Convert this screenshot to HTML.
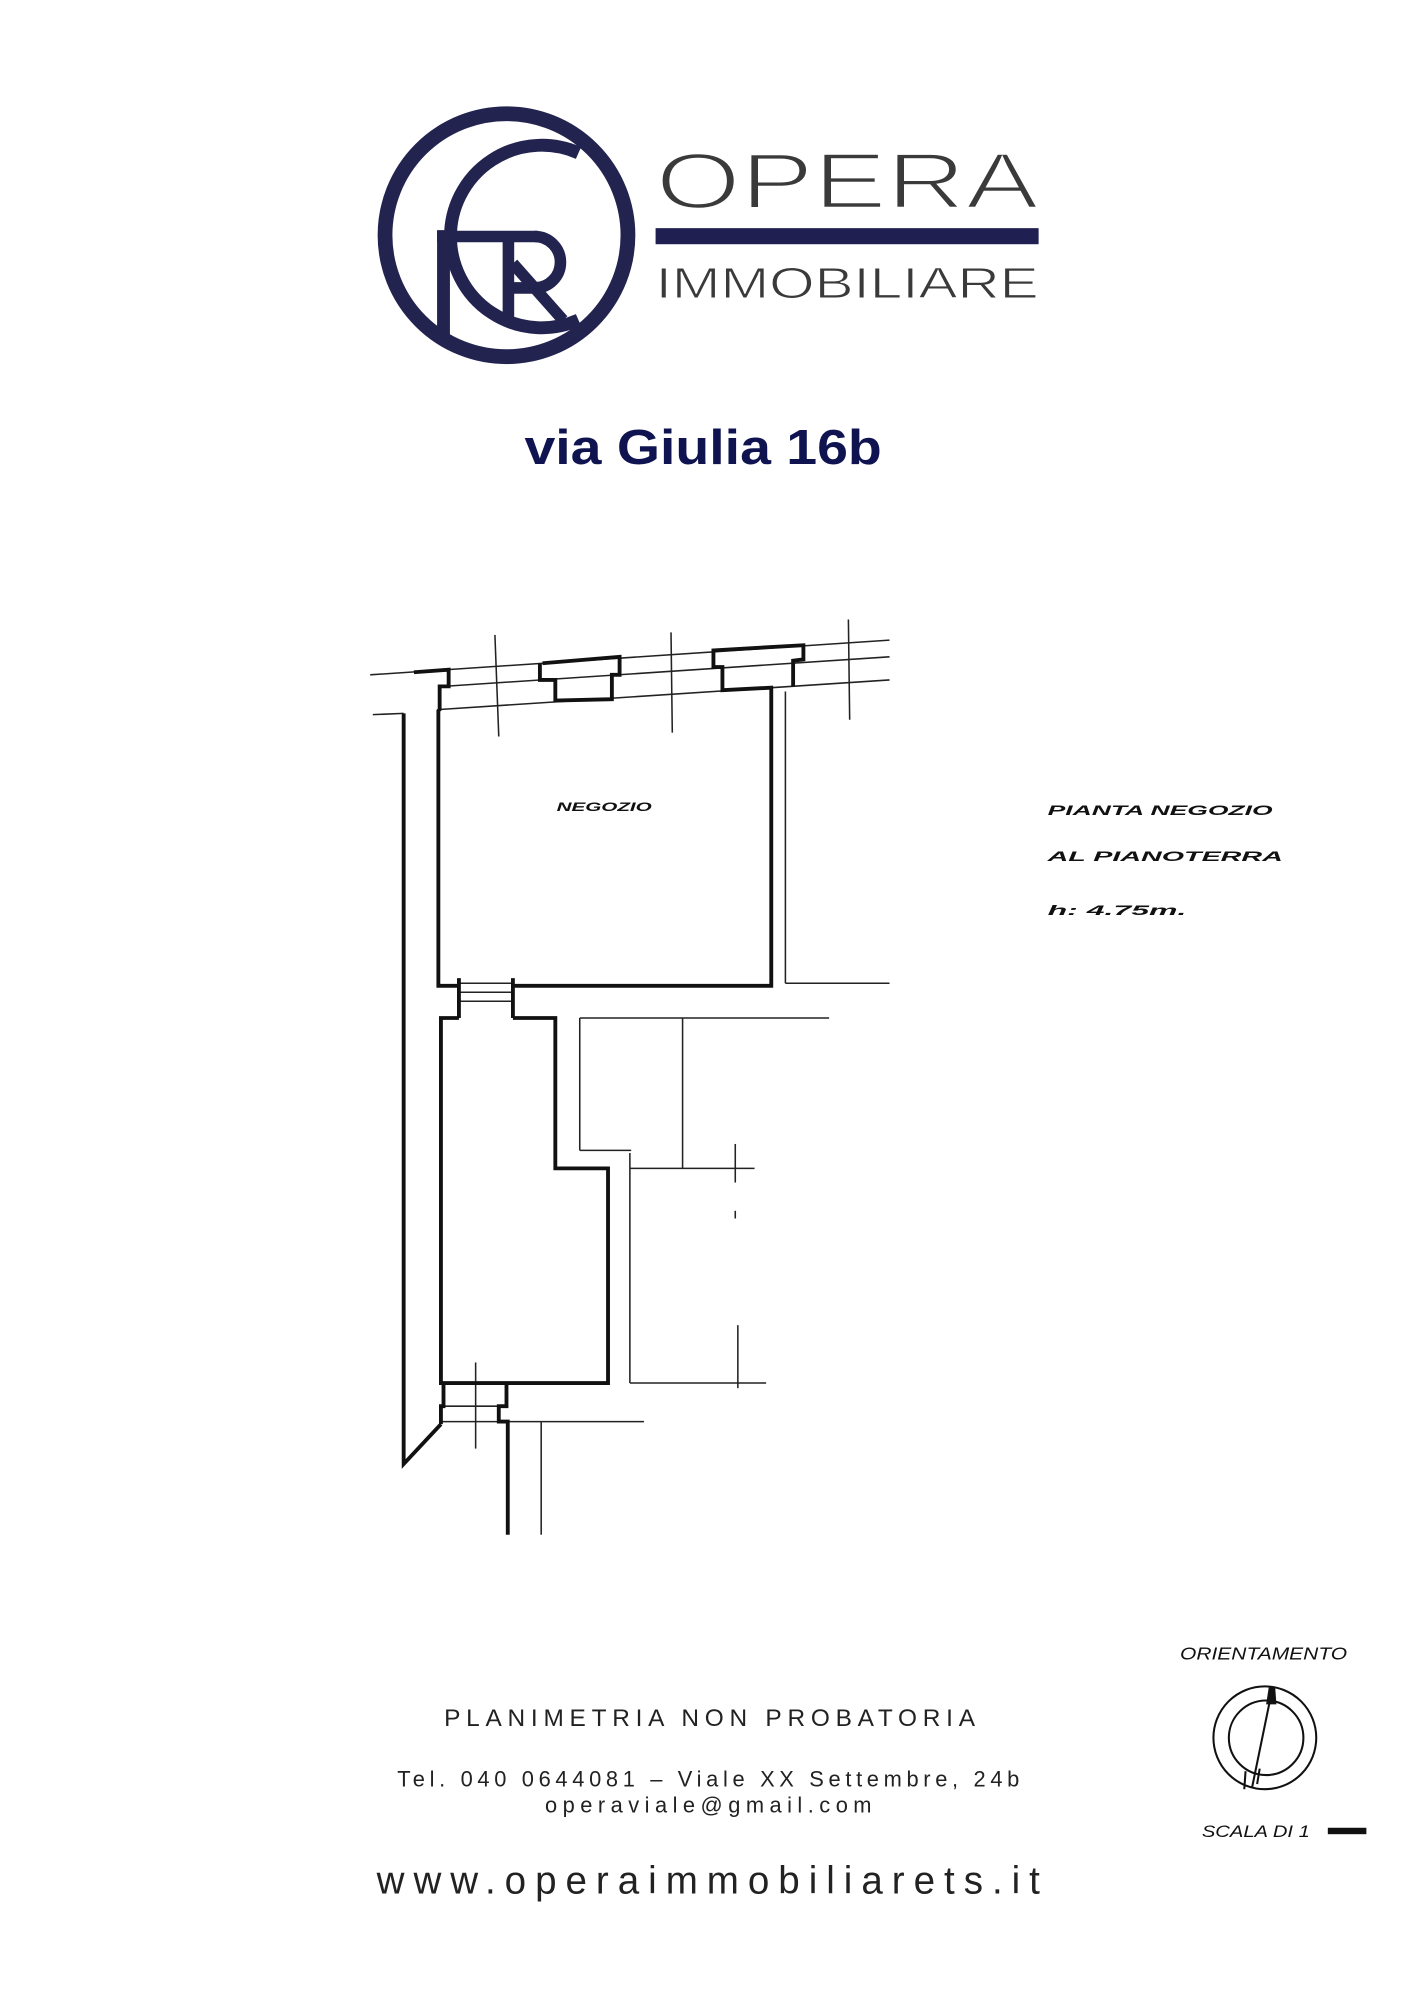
<!DOCTYPE html>
<html><head><meta charset="utf-8"><style>
html,body{margin:0;padding:0;background:#fff;}
svg{display:block;}
</style></head><body>
<svg width="1414" height="2000" viewBox="0 0 1100 1556" xmlns="http://www.w3.org/2000/svg">
<rect width="1100" height="1556" fill="#fff"/>
<!-- LOGO -->
<g fill="none" stroke="#23234f">
<circle cx="394" cy="183" r="94.5" stroke-width="11.5"/>
<path d="M450,119 A71,71 0 1 0 450,249" stroke-width="10"/>
<line x1="345" y1="179" x2="345" y2="261" stroke-width="10"/>
<line x1="340" y1="184" x2="418" y2="184" stroke-width="9"/>
<path d="M416,184 A20,20 0 0 1 416,224 L396,224" stroke-width="9"/>
<line x1="395.5" y1="184" x2="395.5" y2="248" stroke-width="9"/>
<line x1="399" y1="205" x2="438" y2="249" stroke-width="9"/>
</g>
<text x="510" y="162" font-family="Liberation Sans, sans-serif" font-size="61" fill="#3a3a3a" textLength="298" lengthAdjust="spacingAndGlyphs" stroke="#fff" stroke-width="2">OPERA</text>
<rect x="510" y="177.5" width="298" height="12.5" fill="#1f1f52"/>
<text x="510" y="232" font-family="Liberation Sans, sans-serif" font-size="34" fill="#3a3a3a" textLength="298" lengthAdjust="spacingAndGlyphs" stroke="#fff" stroke-width="0.8">IMMOBILIARE</text>
<text x="547" y="361" text-anchor="middle" font-family="Liberation Sans, sans-serif" font-weight="bold" font-size="38" fill="#0f1450" textLength="278" lengthAdjust="spacingAndGlyphs">via Giulia 16b</text>

<!-- PLAN thin lines -->
<g stroke="#222" fill="none" stroke-width="1.2">
<line x1="288" y1="525" x2="692" y2="498"/>
<line x1="345" y1="534" x2="692" y2="511"/>
<line x1="342" y1="552" x2="692" y2="529"/>
<line x1="385" y1="494" x2="388" y2="573"/>
<line x1="522" y1="492" x2="523" y2="570"/>
<line x1="660" y1="482" x2="661" y2="560"/>
<line x1="611" y1="538" x2="611" y2="765"/>
<line x1="611" y1="765" x2="692" y2="765"/>
<line x1="451" y1="792" x2="451" y2="895"/>
<line x1="451" y1="792" x2="645" y2="792"/>
<line x1="451" y1="895" x2="491" y2="895"/>
<line x1="490" y1="897" x2="490" y2="1076"/>
<line x1="490" y1="1076" x2="596" y2="1076"/>
<line x1="531" y1="792" x2="531" y2="909"/>
<line x1="490" y1="909" x2="587" y2="909"/>
<line x1="572" y1="890" x2="572" y2="920"/>
<line x1="572" y1="942" x2="572" y2="948"/>
<line x1="574" y1="1031" x2="574" y2="1080"/>
<line x1="344" y1="1094" x2="394" y2="1094"/>
<line x1="344" y1="1106" x2="421" y2="1106"/>
<line x1="370" y1="1060" x2="370" y2="1127"/>
<line x1="421" y1="1106" x2="421" y2="1194"/>
<line x1="421" y1="1106" x2="501" y2="1106"/>
<line x1="357" y1="765" x2="399" y2="765"/>
<line x1="357" y1="772" x2="399" y2="772"/>
<line x1="357" y1="779" x2="399" y2="779"/>
<line x1="290" y1="556" x2="314" y2="555"/>
</g>
<!-- PLAN thick walls -->
<g stroke="#111" fill="none" stroke-width="3" stroke-linejoin="miter">
<polyline points="322,523 349,521 349,534 342,534 342,552 341,553 341,767 357,767"/>
<polyline points="399,767 600,767 600,535 562,537 562,519 555,519 555,506 625,502 625,513 617,514 617,534"/>
<polyline points="422,516 482,511 482,525 476,525 476,544 432,545 432,529 420,529 420,516"/>
<line x1="357" y1="761" x2="357" y2="792"/>
<line x1="399" y1="761" x2="399" y2="792"/>
<polyline points="357,792 343,792 343,1076 473,1076 473,909 432,909 432,792 399,792"/>
<polyline points="345,1076 345,1094 343,1094 343,1108"/>
<polyline points="394,1076 394,1094 388,1094 388,1106 395,1106 395,1194"/>
<polyline points="314,555 314,1139 343,1108"/>
</g>
<text x="470" y="631" text-anchor="middle" font-family="Liberation Sans, sans-serif" font-weight="bold" font-style="italic" font-size="9" fill="#111" textLength="74" lengthAdjust="spacingAndGlyphs">NEGOZIO</text>
<g font-family="Liberation Sans, sans-serif" font-weight="bold" font-style="italic" fill="#111" font-size="11">
<text x="815" y="634" textLength="175" lengthAdjust="spacingAndGlyphs">PIANTA   NEGOZIO</text>
<text x="815" y="670" textLength="183" lengthAdjust="spacingAndGlyphs">AL    PIANOTERRA</text>
<text x="815" y="712" textLength="108" lengthAdjust="spacingAndGlyphs">h: 4.75m.</text>
</g>

<!-- compass -->
<text x="918" y="1291" font-family="Liberation Sans, sans-serif" font-style="italic" font-size="14" fill="#111" textLength="130" lengthAdjust="spacingAndGlyphs">ORIENTAMENTO</text>
<g stroke="#111" fill="none" stroke-width="1.6">
<circle cx="984" cy="1352" r="40"/>
<circle cx="985" cy="1352" r="29"/>
<line x1="990" y1="1313" x2="974" y2="1391"/>
<line x1="969" y1="1378" x2="968" y2="1392"/>
<line x1="980" y1="1376" x2="978" y2="1388"/>
</g>
<path d="M987,1313 L992,1312 L993,1326 L985,1326 Z" fill="#111"/>
<text x="935" y="1429" font-family="Liberation Sans, sans-serif" font-style="italic" font-size="13" fill="#111" textLength="84" lengthAdjust="spacingAndGlyphs">SCALA DI 1</text>
<rect x="1033" y="1422" width="30" height="5" fill="#111"/>

<!-- footer -->
<g font-family="Liberation Sans, sans-serif" fill="#222" text-anchor="middle">
<text x="552" y="1343" font-size="19" textLength="413" lengthAdjust="spacing">PLANIMETRIA NON PROBATORIA</text>
<text x="551" y="1390" font-size="17" textLength="484" lengthAdjust="spacing">Tel. 040 0644081 – Viale XX Settembre, 24b</text>
<text x="551" y="1410" font-size="17" textLength="254" lengthAdjust="spacing">operaviale@gmail.com</text>
<text x="551" y="1473" font-size="30" textLength="516" lengthAdjust="spacing">www.operaimmobiliarets.it</text>
</g>
</svg>
</body></html>
